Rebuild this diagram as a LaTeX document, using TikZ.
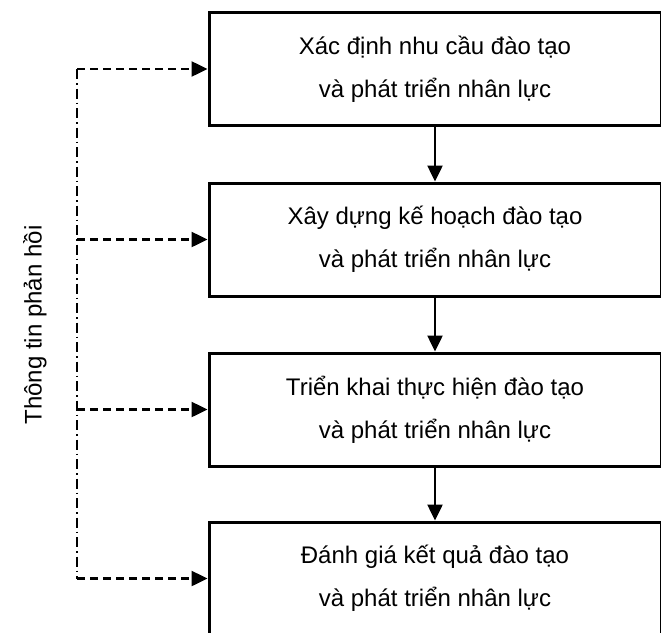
\documentclass[tikz,border=0pt]{standalone}
\usepackage{fontspec}
\setmainfont{Liberation Sans}
\usetikzlibrary{arrows.meta}

\begin{document}
\begin{tikzpicture}
		[
		x=1pt, y=-1pt, font=\fontsize{24}{43}\selectfont, >={Triangle[length=16pt,width=15pt]},
		%Voreinstellung
		stufe/.style={draw, line width=3pt, minimum width=452pt, minimum height=113pt, align=center, inner sep=0pt},
		rueck/.style={line width=2.5pt, dash pattern=on 8pt off 5pt},
		pfeil/.style={line width=2.5pt}
		]
		
		%Rahmen
		\useasboundingbox (0,0) rectangle (661,632);
		\clip (0,0) rectangle (661,632);
		
		%Kaesten
		\node[stufe] (box1) at (435,69) {Xác định nhu cầu đào tạo\\và phát triển nhân lực};
		\node[stufe] (box2) at (435,239.5) {Xây dựng kế hoạch đào tạo\\và phát triển nhân lực};
		\node[stufe] (box3) at (435,409.5) {Triển khai thực hiện đào tạo\\và phát triển nhân lực};
		\node[stufe] (box4) at (435,578.5) {Đánh giá kết quả đào tạo\\và phát triển nhân lực};
		
		%Pfeile nach unten
		\draw[pfeil, ->] (box1) -- (box2);
		\draw[pfeil, ->] (box2) -- (box3);
		\draw[pfeil, ->] (box3) -- (box4);
		
		%Rueckmeldung
		\coordinate (fb1) at (77,69);
		\coordinate (fb2) at (77,239.5);
		\coordinate (fb3) at (77,409.5);
		\coordinate (fb4) at (77,578.5);
		\draw[line width=2.5pt, dash pattern=on 10pt off 4pt on 1.5pt off 4pt] (fb1) -- (fb4);
		\draw[rueck, ->] (fb1) -- (box1.west);
		\draw[rueck, ->] (fb2) -- (box2.west);
		\draw[rueck, ->] (fb3) -- (box3.west);
		\draw[rueck, ->] (fb4) -- (box4.west);
		
		\node[rotate=90] (info) at (35,325) {Thông tin phản hồi};
	\end{tikzpicture}
\end{document}
